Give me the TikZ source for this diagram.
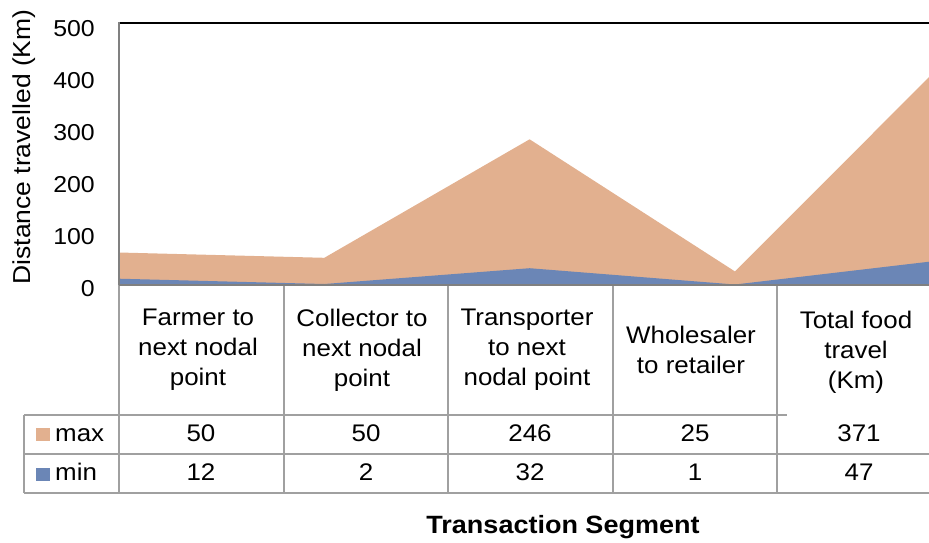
\documentclass[tikz,border=0pt]{standalone}
\usepackage{fontspec}
\setmainfont[FakeStretch=1.08]{Liberation Sans}
\definecolor{maxc}{RGB}{226,176,143}
\definecolor{minc}{RGB}{107,134,182}
\definecolor{gridc}{RGB}{160,160,160}
\definecolor{axisc}{RGB}{128,128,128}
\tikzset{
  cell/.style={font=\fontsize{24}{30}\selectfont, align=center, inner sep=0pt, text=black},
  val/.style={font=\fontsize{24}{29}\selectfont, anchor=base, inner sep=0pt},
  tick/.style={font=\fontsize{23}{28}\selectfont, anchor=base east, inner sep=0pt},
  gridline/.style={draw=gridc, line width=1.5pt},
  swatch/.style={inner sep=0pt, minimum width=14pt, minimum height=13pt, anchor=north west}
}
\begin{document}
\begin{tikzpicture}[x=1pt,y=-1pt]
\useasboundingbox (0,0) rectangle (929,542);
% areas (stacked)
\begin{scope}
\clip (119,0) rectangle (929,285);
\fill[maxc] (119,285) -- (119,252.5) -- (324.3,257.8) -- (529.6,139.3) -- (734.9,271.4) -- (940.2,66.0) -- (940.2,285) -- cycle;
\fill[minc] (119,285) -- (119,278.7) -- (324.3,284.0) -- (529.6,268.2) -- (734.9,284.5) -- (940.2,260.4) -- (940.2,285) -- cycle;
\end{scope}
% plot frame
\draw[black, line width=2pt] (119,23) -- (929,23);
\draw[axisc, line width=2pt] (119,22) -- (119,285);
% table grid
\draw[gridline] (119,285) -- (119,493);
\draw[gridline] (284,285) -- (284,493);
\draw[gridline] (448,285) -- (448,493);
\draw[gridline] (613,285) -- (613,493);
\draw[gridline] (777,285) -- (777,493);
\draw[gridline] (24,415) -- (24,493);
\draw[gridline] (24,415) -- (787,415);
\draw[gridline] (24,454) -- (929,454);
\draw[gridline] (24,493) -- (929,493);
\draw[axisc, line width=2.5pt] (119,285) -- (929,285);
% y ticks
\node[tick] (t500) at (95,36) {500};
\node[tick] (t400) at (95,88) {400};
\node[tick] (t300) at (95,140) {300};
\node[tick] (t200) at (95,192) {200};
\node[tick] (t100) at (95,244) {100};
\node[tick] (t0) at (95,296) {0};
\node[font=\fontsize{24.5}{29}\selectfont, rotate=90, inner sep=0pt] (ytitle) at (24,147) {Distance travelled (Km)};
% headers
\node[cell] (h1) at (198,350) {Farmer to\\next nodal\\point};
\node[cell] (h2) at (362,350) {Collector to\\next nodal\\point};
\node[cell] (h3) at (527,350) {Transporter\\to next\\nodal point};
\node[cell] (h4) at (691,350) {Wholesaler\\to retailer};
\node[cell] (h5) at (856,352) {Total food\\travel\\(Km)};
% legend
\node[swatch, fill=maxc] (smax) at (36,428) {};
\node[swatch, fill=minc] (smin) at (36,468) {};
\node[val, anchor=base west] (lmax) at (55,441) {max};
\node[val, anchor=base west] (lmin) at (55,480) {min};
% values
\node[val] (m1) at (201,441) {50};
\node[val] (m2) at (366,441) {50};
\node[val] (m3) at (530,441) {246};
\node[val] (m4) at (695,441) {25};
\node[val] (m5) at (859,441) {371};
\node[val] (n1) at (201,480) {12};
\node[val] (n2) at (366,480) {2};
\node[val] (n3) at (530,480) {32};
\node[val] (n4) at (695,480) {1};
\node[val] (n5) at (859,480) {47};
% axis title
\node[font=\bfseries\fontsize{25}{30}\selectfont, anchor=base, inner sep=0pt] (xtitle) at (563,533) {Transaction Segment};
\end{tikzpicture}
\end{document}
